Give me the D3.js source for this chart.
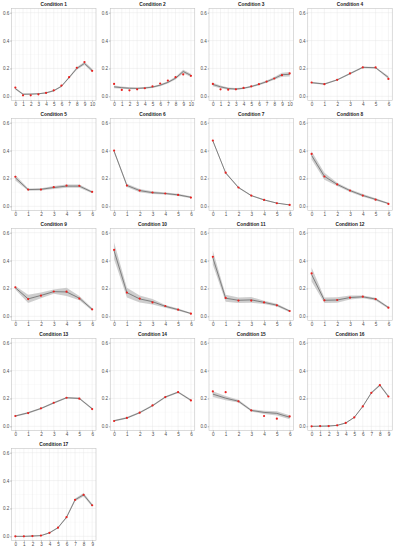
<!DOCTYPE html>
<html>
<head>
<meta charset="utf-8">
<script src="https://cdn.jsdelivr.net/npm/d3@7"></script>
<style>
  body { margin: 0; background: #fff; }
  svg { display: block; font-family: "Liberation Sans", Arial, sans-serif; }
</style>
</head>
<body>
<div id="chart"></div>
<script>
const titles = d3.range(1, 18).map(i => "Condition " + i);

// red points: observed values per condition
const observed = [
  [0.063, 0.007, 0.007, 0.014, 0.024, 0.043, 0.077, 0.137, 0.205, 0.246, 0.183],
  [0.089, 0.046, 0.043, 0.050, 0.058, 0.072, 0.092, 0.113, 0.137, 0.157, 0.147],
  [0.089, 0.050, 0.048, 0.050, 0.060, 0.072, 0.087, 0.106, 0.128, 0.152, 0.164],
  [0.099, 0.087, 0.118, 0.164, 0.207, 0.207, 0.125],
  [0.212, 0.120, 0.120, 0.137, 0.149, 0.147, 0.104],
  [0.400, 0.149, 0.113, 0.099, 0.092, 0.082, 0.063],
  [0.472, 0.241, 0.135, 0.077, 0.046, 0.022, 0.010],
  [0.376, 0.214, 0.157, 0.113, 0.077, 0.048, 0.017],
  [0.208, 0.124, 0.148, 0.178, 0.177, 0.127, 0.050],
  [0.476, 0.170, 0.127, 0.100, 0.074, 0.048, 0.019],
  [0.427, 0.132, 0.113, 0.113, 0.100, 0.079, 0.038],
  [0.308, 0.115, 0.117, 0.134, 0.141, 0.124, 0.062],
  [0.074, 0.095, 0.129, 0.169, 0.205, 0.198, 0.124],
  [0.038, 0.060, 0.098, 0.150, 0.210, 0.245, 0.186],
  [0.250, 0.245, 0.179, 0.114, 0.074, 0.055, 0.071],
  [0.000, 0.002, 0.002, 0.007, 0.024, 0.064, 0.143, 0.240, 0.295, 0.214],
  [0.000, 0.000, 0.002, 0.005, 0.025, 0.062, 0.137, 0.262, 0.298, 0.223]
];

// grey line: fitted values per condition
const fitted = [
  [0.055, 0.015, 0.016, 0.018, 0.025, 0.040, 0.072, 0.135, 0.200, 0.236, 0.185],
  [0.068, 0.062, 0.058, 0.057, 0.060, 0.066, 0.080, 0.100, 0.130, 0.178, 0.150],
  [0.085, 0.068, 0.056, 0.052, 0.058, 0.070, 0.086, 0.105, 0.128, 0.155, 0.158],
  [0.098, 0.088, 0.118, 0.163, 0.208, 0.205, 0.135],
  [0.205, 0.120, 0.122, 0.135, 0.145, 0.145, 0.102],
  [0.395, 0.150, 0.113, 0.098, 0.092, 0.082, 0.065],
  [0.470, 0.240, 0.135, 0.077, 0.046, 0.023, 0.010],
  [0.365, 0.215, 0.157, 0.113, 0.078, 0.050, 0.020],
  [0.205, 0.125, 0.150, 0.177, 0.175, 0.130, 0.050],
  [0.470, 0.170, 0.125, 0.105, 0.072, 0.048, 0.020],
  [0.420, 0.130, 0.115, 0.118, 0.100, 0.080, 0.038],
  [0.300, 0.115, 0.117, 0.135, 0.140, 0.124, 0.063],
  [0.074, 0.097, 0.128, 0.168, 0.205, 0.200, 0.126],
  [0.040, 0.060, 0.098, 0.148, 0.210, 0.245, 0.187],
  [0.231, 0.202, 0.180, 0.114, 0.100, 0.093, 0.065],
  [0.000, 0.001, 0.002, 0.007, 0.024, 0.064, 0.143, 0.240, 0.295, 0.214],
  [0.000, 0.000, 0.002, 0.005, 0.025, 0.062, 0.137, 0.262, 0.298, 0.223]
];

// half width of the grey band
const bandHalf = [
  [0.008, 0.005, 0.004, 0.004, 0.004, 0.005, 0.006, 0.008, 0.010, 0.012, 0.012],
  [0.010, 0.008, 0.007, 0.006, 0.006, 0.006, 0.007, 0.008, 0.010, 0.012, 0.012],
  [0.012, 0.010, 0.008, 0.007, 0.006, 0.006, 0.007, 0.008, 0.010, 0.014, 0.016],
  [0.006, 0.005, 0.005, 0.006, 0.006, 0.006, 0.010],
  [0.020, 0.008, 0.008, 0.010, 0.012, 0.012, 0.008],
  [0.010, 0.012, 0.012, 0.010, 0.008, 0.008, 0.008],
  [0.008, 0.006, 0.005, 0.004, 0.004, 0.003, 0.003],
  [0.030, 0.025, 0.012, 0.010, 0.010, 0.008, 0.006],
  [0.012, 0.030, 0.020, 0.015, 0.030, 0.015, 0.010],
  [0.060, 0.035, 0.025, 0.020, 0.010, 0.008, 0.006],
  [0.050, 0.025, 0.020, 0.020, 0.012, 0.010, 0.008],
  [0.050, 0.020, 0.020, 0.015, 0.010, 0.010, 0.008],
  [0.006, 0.006, 0.006, 0.006, 0.006, 0.006, 0.008],
  [0.006, 0.006, 0.006, 0.006, 0.006, 0.006, 0.008],
  [0.020, 0.015, 0.010, 0.008, 0.012, 0.015, 0.015],
  [0.003, 0.003, 0.003, 0.003, 0.003, 0.004, 0.005, 0.006, 0.008, 0.008],
  [0.003, 0.003, 0.003, 0.003, 0.004, 0.005, 0.007, 0.010, 0.012, 0.010]
];

const yTicks = [0, 0.2, 0.4, 0.6];
const yMinor = [0.1, 0.3, 0.5];

const width = 395;
const height = 550;
const cellW = width / 4;
const cellH = 110;
const panel = { left: 11.5, right: 96, top: 8.5, bottom: 100.5 };

const svg = d3.select("#chart").append("svg")
  .attr("width", width)
  .attr("height", height);

titles.forEach((title, i) => {
  const col = i % 4;
  const row = Math.floor(i / 4);
  const g = svg.append("g")
    .attr("transform", `translate(${col * cellW},${row * cellH})`);
  renderPanel(g, title, observed[i], fitted[i], bandHalf[i]);
});

function renderPanel(g, title, obs, fit, half) {
  const n = obs.length - 1;
  const xs = d3.range(0, n + 1);
  const x = d3.scaleLinear()
    .domain([-0.05 * n, n * 1.05])
    .range([panel.left, panel.right]);
  const y = d3.scaleLinear()
    .domain([-0.03, 0.63])
    .range([panel.bottom, panel.top]);

  g.append("rect")
    .attr("x", panel.left)
    .attr("y", panel.top)
    .attr("width", panel.right - panel.left)
    .attr("height", panel.bottom - panel.top)
    .attr("fill", "#fff");

  // minor grid
  g.append("g").selectAll("line")
    .data(d3.range(0.5, n, 1))
    .join("line")
    .attr("x1", d => x(d)).attr("x2", d => x(d))
    .attr("y1", panel.top).attr("y2", panel.bottom)
    .attr("stroke", "#f0f0f0").attr("stroke-width", 0.3);
  g.append("g").selectAll("line")
    .data(yMinor)
    .join("line")
    .attr("y1", d => y(d)).attr("y2", d => y(d))
    .attr("x1", panel.left).attr("x2", panel.right)
    .attr("stroke", "#f0f0f0").attr("stroke-width", 0.3);

  // major grid
  g.append("g").selectAll("line")
    .data(xs)
    .join("line")
    .attr("x1", d => x(d)).attr("x2", d => x(d))
    .attr("y1", panel.top).attr("y2", panel.bottom)
    .attr("stroke", "#e2e2e2").attr("stroke-width", 0.4);
  g.append("g").selectAll("line")
    .data(yTicks)
    .join("line")
    .attr("y1", d => y(d)).attr("y2", d => y(d))
    .attr("x1", panel.left).attr("x2", panel.right)
    .attr("stroke", "#e2e2e2").attr("stroke-width", 0.4);

  const rows = xs.map(k => ({ k: k, obs: obs[k], fit: fit[k], half: half[k] }));

  g.append("path")
    .datum(rows)
    .attr("fill", "#bdbdbd")
    .attr("fill-opacity", 0.75)
    .attr("d", d3.area()
      .x(d => x(d.k))
      .y0(d => y(d.fit - d.half))
      .y1(d => y(d.fit + d.half)));

  g.append("path")
    .datum(rows)
    .attr("fill", "none")
    .attr("stroke", "#6b6b6b")
    .attr("stroke-width", 0.8)
    .attr("d", d3.line()
      .x(d => x(d.k))
      .y(d => y(d.fit)));

  g.append("g").selectAll("circle")
    .data(rows)
    .join("circle")
    .attr("cx", d => x(d.k))
    .attr("cy", d => y(d.obs))
    .attr("r", 1.1)
    .attr("fill", "#e8211f");

  g.append("rect")
    .attr("x", panel.left)
    .attr("y", panel.top)
    .attr("width", panel.right - panel.left)
    .attr("height", panel.bottom - panel.top)
    .attr("fill", "none")
    .attr("stroke", "#c4c4c4")
    .attr("stroke-width", 0.6);

  const xAxis = g.append("g")
    .attr("transform", `translate(0,${panel.bottom})`)
    .call(d3.axisBottom(x).tickValues(xs).tickFormat(d3.format("d")).tickSize(1.3).tickPadding(0.6));
  const yAxis = g.append("g")
    .attr("transform", `translate(${panel.left},0)`)
    .call(d3.axisLeft(y).tickValues(yTicks).tickFormat(d3.format(".1f")).tickSize(1.3).tickPadding(0.8));

  [xAxis, yAxis].forEach(a => {
    a.select(".domain").remove();
    a.selectAll(".tick line").attr("stroke", "#555").attr("stroke-width", 0.4);
    a.selectAll(".tick text")
      .attr("fill", "#4d4d4d")
      .style("font-size", "4.6px")
      .style("font-family", "'Liberation Sans', Arial, sans-serif");
  });

  g.append("text")
    .attr("x", (panel.left + panel.right) / 2)
    .attr("y", 6.3)
    .attr("text-anchor", "middle")
    .style("font-size", "4.8px")
    .style("font-weight", "bold")
    .attr("fill", "#222")
    .text(title);
}
</script>
</body>
</html>
